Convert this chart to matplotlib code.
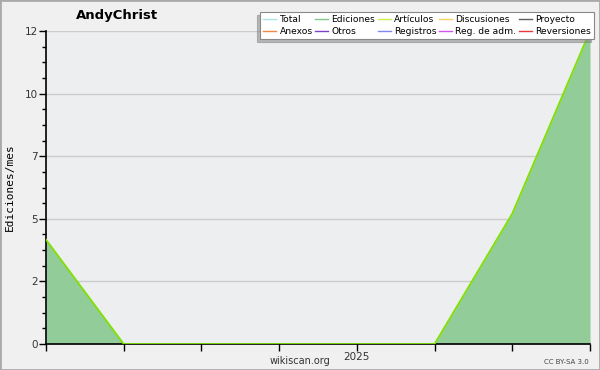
import numpy as np
import matplotlib.pyplot as plt
from matplotlib.patches import Rectangle
from matplotlib.ticker import FixedLocator

# Datos: ediciones por mes (sep 2024 - abr 2025)
meses = ['2024-09', '2024-10', '2024-11', '2024-12', '2025-01', '2025-02', '2025-03', '2025-04']
ediciones = [4, 0, 0, 0, 0, 0, 5, 12]
articulos = [4, 0, 0, 0, 0, 0, 5, 12]
etiquetas_x = ['', '', '', '', '2025', '', '', '']

series = ['Total', 'Anexos', 'Ediciones', 'Otros', 'Artículos', 'Registros',
          'Discusiones', 'Reg. de adm.', 'Proyecto', 'Reversiones']
colores = ['#a8e4e0', '#f08848', '#80c888', '#8040c8', '#c8f050', '#8088f0',
           '#f8d068', '#d058f0', '#606060', '#e83838']

fig = plt.figure(figsize=(6, 3.7), dpi=100, facecolor='#f0f0f0')
ax = fig.add_axes([46/600, 1-344/370, 544/600, 313/370])
ax.set_facecolor('#edeef0')

x = np.arange(len(meses))
ax.fill_between(x, ediciones, color='#92cc99', lw=0, zorder=2)
ax.plot(x, articulos, color='#80e000', lw=1.3, zorder=3)

ax.set_xlim(0, len(meses) - 1)
ax.set_ylim(0, 12)
ax.set_xticks(x)
ax.set_xticklabels(etiquetas_x)
yt = np.linspace(0, 12, 6)
ax.set_yticks(yt)
ax.set_yticklabels([str(int(round(v))) for v in yt])
ax.yaxis.set_minor_locator(FixedLocator(np.arange(0, 12.01, 0.6)))
ax.grid(axis='y', color='#cccccc', lw=1, zorder=1)
ax.set_axisbelow(True)

for s in ['top', 'right']:
    ax.spines[s].set_visible(False)
for s in ['left', 'bottom']:
    ax.spines[s].set_color('black')
    ax.spines[s].set_linewidth(1.2)
ax.tick_params(axis='both', which='major', length=5, width=1, colors='black',
               labelsize=7.5, labelcolor='#333333', pad=1)
ax.tick_params(axis='y', which='minor', length=3, width=1, colors='black')

ax.set_ylabel('Ediciones/mes', family='DejaVu Sans Mono', fontsize=8, labelpad=7)

fig.text(117/600, 1-16/370, 'AndyChrist', ha='center', va='center',
         fontsize=9.5, fontweight='bold')
fig.text(300/600, 1-361/370, 'wikiscan.org', ha='center', va='center',
         fontsize=7, color='#333333')
fig.text(589/600, 1-362/370, 'CC BY-SA 3.0', ha='right', va='center',
         fontsize=5, color='#444444')

handles = [plt.Line2D([], [], color=c, lw=1) for c in colores]
leg = fig.legend(handles, series, ncol=5, loc='upper right',
                 bbox_to_anchor=(594/600, 1-12/370), fontsize=6.6,
                 frameon=True, fancybox=False,
                 shadow={'ox': -2.2, 'oy': -2.2, 'color': '#808080'},
                 handlelength=1.4, handletextpad=0.35, columnspacing=0.3,
                 labelspacing=0.3, borderpad=0.35, borderaxespad=0)
leg.get_frame().set_edgecolor('#888888')
leg.get_frame().set_linewidth(0.8)
leg.get_frame().set_facecolor('white')

fig.patches.append(Rectangle((0, 0), 1, 1, transform=fig.transFigure,
                             fill=False, edgecolor='#aaaaaa', lw=2))

fig.savefig('out.png', dpi=100, facecolor=fig.get_facecolor())
